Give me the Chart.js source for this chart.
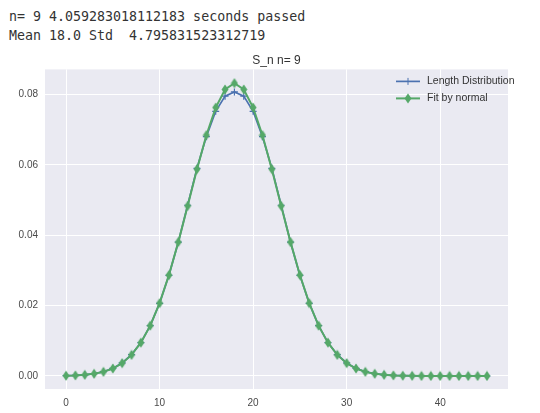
<!DOCTYPE html>
<html>
<head>
<meta charset="utf-8">
<script src="https://cdn.jsdelivr.net/npm/chart.js@4.4.1/dist/chart.umd.min.js"></script>
<style>
  html, body { margin: 0; padding: 0; background: #fff; }
  body { width: 540px; height: 413px; position: relative; overflow: hidden; }
  #out {
    position: absolute; left: 9px; top: 7px; margin: 0;
    font-family: "DejaVu Sans Mono", monospace; font-size: 13.3px;
    line-height: 19px; color: #333;
  }
  #wrap { position: absolute; left: 0; top: 53px; width: 540px; height: 360px; }
</style>
</head>
<body>
<pre id="out">n= 9 4.059283018112183 seconds passed
Mean 18.0 Std  4.795831523312719</pre>
<div id="wrap"><canvas id="chart"></canvas></div>
<script>
// values
const lengths = [0, 1, 2, 3, 4, 5, 6, 7, 8, 9, 10, 11, 12, 13, 14, 15, 16, 17, 18, 19, 20, 21, 22,
    23, 24, 25, 26, 27, 28, 29, 30, 31, 32, 33, 34, 35, 36, 37, 38, 39, 40, 41, 42, 43, 44, 45];
const lengthDist = [0.00008, 0.00017, 0.00034, 0.00066, 0.00121, 0.00216, 0.00370, 0.00605, 0.00950,
    0.01430, 0.02065, 0.02860, 0.03800, 0.04850, 0.05900, 0.06800, 0.07520, 0.07950, 0.08070,
    0.07950, 0.07520, 0.06800, 0.05900, 0.04850, 0.03800, 0.02860, 0.02065, 0.01430, 0.00950,
    0.00605, 0.00370, 0.00216, 0.00121, 0.00066, 0.00034, 0.00017, 0.00008, 0.00003, 0.00001,
    0, 0, 0, 0, 0, 0, 0];
const normalFit = [0.00007, 0.00016, 0.00032, 0.00063, 0.00117, 0.00211, 0.00364, 0.00599, 0.00946,
    0.01430, 0.02069, 0.02867, 0.03803, 0.04831, 0.05875, 0.06841, 0.07626, 0.08140, 0.08319,
    0.08140, 0.07626, 0.06841, 0.05875, 0.04831, 0.03803, 0.02867, 0.02069, 0.01430, 0.00946,
    0.00599, 0.00364, 0.00211, 0.00117, 0.00063, 0.00032, 0.00016, 0.00007, 0.00003, 0.00001,
    0, 0, 0, 0, 0, 0, 0];
const xTicks = [0, 10, 20, 30, 40];
const yTicks = [0.00, 0.02, 0.04, 0.06, 0.08];

const blue = '#4C72B0';
const green = '#55A868';
const tickColor = '#4a4a4a';

// thin diamond marker like matplotlib 'd'
function makeDiamond(color) {
    const c = document.createElement('canvas');
    c.width = 8; c.height = 11;
    const g = c.getContext('2d');
    g.fillStyle = color;
    g.beginPath();
    g.moveTo(4, 0.5);
    g.lineTo(7.5, 5.5);
    g.lineTo(4, 10.5);
    g.lineTo(0.5, 5.5);
    g.closePath();
    g.fill();
    return c;
}
const diamond = makeDiamond(green);

// legend drawn inside the axes, top right
const innerLegend = {
    id: 'innerLegend',
    afterDraw(chart) {
        const ctx = chart.ctx;
        const a = chart.chartArea;
        const x0 = a.right - 112, x1 = a.right - 88;
        const rows = [a.top + 12, a.top + 29];
        ctx.save();
        ctx.font = '10.5px "Liberation Sans", Arial, sans-serif';
        ctx.textBaseline = 'middle';
        chart.data.datasets.forEach((ds, i) => {
            const y = rows[i];
            ctx.strokeStyle = ds.borderColor;
            ctx.lineWidth = ds.borderWidth;
            ctx.beginPath();
            ctx.moveTo(x0, y);
            ctx.lineTo(x1, y);
            ctx.stroke();
            const mx = (x0 + x1) / 2;
            if (i === 0) {
                ctx.lineWidth = 1;
                ctx.beginPath();
                ctx.moveTo(mx, y - 3.5); ctx.lineTo(mx, y + 3.5);
                ctx.stroke();
            } else {
                ctx.drawImage(diamond, mx - 4, y - 5.5);
            }
            ctx.fillStyle = '#333';
            ctx.fillText(ds.label, x1 + 7, y);
        });
        ctx.restore();
    }
};

const chart = new Chart(document.getElementById('chart'), {
    type: 'line',
    data: {
        datasets: [
            {
                label: 'Length Distribution',
                data: lengths.map((x, i) => ({ x: x, y: lengthDist[i] })),
                borderColor: blue,
                backgroundColor: blue,
                borderWidth: 1.7,
                pointStyle: 'cross',
                pointRadius: 3.5,
                pointBorderWidth: 1.2,
                order: 1
            },
            {
                label: 'Fit by normal',
                data: lengths.map((x, i) => ({ x: x, y: normalFit[i] })),
                borderColor: green,
                backgroundColor: green,
                borderWidth: 2,
                pointStyle: diamond,
                order: 0
            }
        ]
    },
    options: {
        responsive: true,
        maintainAspectRatio: false,
        animation: false,
        events: [],
        layout: { padding: { left: 0, right: 32, top: 0, bottom: 0 } },
        plugins: {
            legend: { display: false },
            tooltip: { enabled: false },
            title: {
                display: true,
                text: 'S_n n= 9',
                color: '#333',
                fullSize: false,
                font: { family: '"Liberation Sans", Arial, sans-serif', size: 12, weight: 'normal' },
                padding: { top: 0, bottom: 2 }
            }
        },
        scales: {
            x: {
                type: 'linear',
                min: -2.25,
                max: 47.25,
                grid: { color: '#ffffff', lineWidth: 1, drawTicks: false },
                border: { display: false },
                ticks: {
                    color: tickColor,
                    padding: 8,
                    font: { family: '"Liberation Sans", Arial, sans-serif', size: 10 }
                },
                afterBuildTicks: s => { s.ticks = xTicks.map(v => ({ value: v })); },
                afterFit: s => { s.height = 24; }
            },
            y: {
                min: -0.0037,
                max: 0.0871,
                grid: { color: '#ffffff', lineWidth: 1, drawTicks: false },
                border: { display: false },
                ticks: {
                    color: tickColor,
                    padding: 7,
                    font: { family: '"Liberation Sans", Arial, sans-serif', size: 10 },
                    callback: v => v.toFixed(2)
                },
                afterBuildTicks: s => { s.ticks = yTicks.map(v => ({ value: v })); },
                afterFit: s => { s.width = 45; }
            }
        }
    },
    plugins: [
        {
            id: 'plotBg',
            beforeDraw(chart) {
                const a = chart.chartArea;
                chart.ctx.save();
                chart.ctx.fillStyle = '#EAEAF2';
                chart.ctx.fillRect(a.left, a.top, a.right - a.left, a.bottom - a.top);
                chart.ctx.restore();
            }
        },
        innerLegend
    ]
});
</script>
</body>
</html>
